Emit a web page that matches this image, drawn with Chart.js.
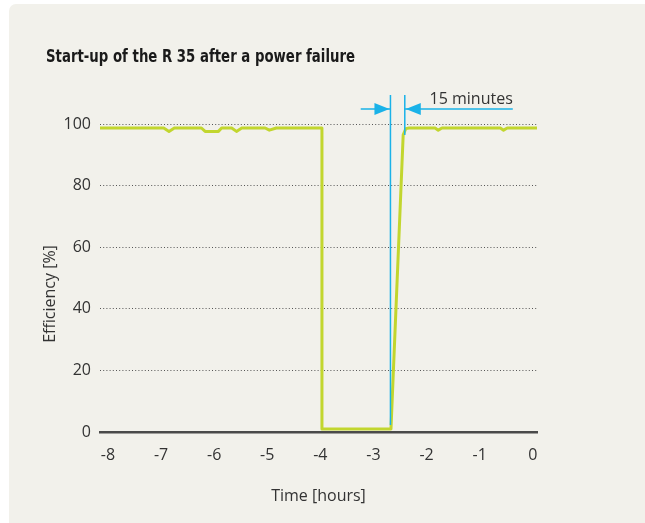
<!DOCTYPE html>
<html>
<head>
<meta charset="utf-8">
<script src="https://cdn.jsdelivr.net/npm/chart.js@4"></script>
<style>
  html, body { margin: 0; padding: 0; background: #fff; overflow: hidden; }
  canvas { display: block; }
</style>
</head>
<body>
<canvas id="chart" width="645" height="523"></canvas>
<script>
// values
const timeHours = [-8.15, -6.95, -6.85, -6.75, -6.24, -6.17, -5.92, -5.86, -5.67, -5.58, -5.48,
    -5.04, -4.96, -4.83, -3.97, -3.97, -2.67, -2.44, -2.39, -2.33, -1.84, -1.78, -1.71,
    -0.61, -0.55, -0.48, 0.08]
const efficiency = [98.7, 98.7, 97.6, 98.7, 98.7, 97.6, 97.6, 98.7, 98.7, 97.6, 98.7,
    98.7, 98.0, 98.7, 98.7, 1, 1, 96.5, 98.5, 98.7, 98.7, 98.0, 98.7,
    98.7, 98.0, 98.7, 98.7]
const yTicks = [0, 20, 40, 60, 80, 100]
const xTicks = [-8, -7, -6, -5, -4, -3, -2, -1, 0]

// the "15 minutes" marker
const restartStart = -2.68
const restartEnd = -2.41
const markerLabel = '15 minutes'

const titleText = 'Start-up of the R 35 after a power failure'
const yTitle = 'Efficiency [%]'
const green = '#c2d62e'
const blue = '#1ab2e8'
const ink = '#333333'

Chart.defaults.font.family = "'Open Sans', sans-serif"
Chart.defaults.font.size = 16
Chart.defaults.color = ink

const backdrop = {
    id: 'backdrop',
    beforeDraw(chart) {
        const {ctx, width, height} = chart
        ctx.save()
        ctx.fillStyle = '#ffffff'
        ctx.fillRect(0, 0, width, height)
        ctx.fillStyle = '#f2f1eb'
        ctx.beginPath()
        ctx.roundRect(9, 4, width + 20, height + 20, 7)
        ctx.fill()
        ctx.fillStyle = '#1a1a1a'
        ctx.font = "bold 17px 'Liberation Sans Narrow', 'DejaVu Sans Condensed', sans-serif"
        ctx.textBaseline = 'alphabetic'
        ctx.fillText(titleText, 46, 62, 309)
        // y axis title, sits a bit below the middle of the plot
        ctx.translate(50, 294)
        ctx.rotate(-Math.PI / 2)
        ctx.fillStyle = ink
        ctx.font = "16px 'Open Sans', sans-serif"
        ctx.textAlign = 'center'
        ctx.textBaseline = 'middle'
        ctx.fillText(yTitle, 0, 0)
        ctx.restore()
    }
}

const marker = {
    id: 'marker',
    afterDatasetsDraw(chart) {
        const {ctx, scales: {x, y}} = chart
        const x1 = x.getPixelForValue(restartStart)
        const x2 = x.getPixelForValue(restartEnd)
        const top = y.getPixelForValue(109.4)
        const arrowY = y.getPixelForValue(104.9)
        ctx.save()
        ctx.strokeStyle = blue
        ctx.fillStyle = blue
        ctx.lineWidth = 1.5
        ctx.beginPath()
        ctx.moveTo(x1, top)
        ctx.lineTo(x1, y.getPixelForValue(2.3))
        ctx.moveTo(x2, top)
        ctx.lineTo(x2, y.getPixelForValue(96.4))
        ctx.moveTo(x.getPixelForValue(-3.24), arrowY)
        ctx.lineTo(x1, arrowY)
        ctx.moveTo(x2, arrowY)
        ctx.lineTo(x.getPixelForValue(-0.376), arrowY)
        ctx.stroke()
        // arrow heads
        ctx.beginPath()
        ctx.moveTo(x1 - 1, arrowY)
        ctx.lineTo(x1 - 16, arrowY - 6)
        ctx.lineTo(x1 - 16, arrowY + 6)
        ctx.closePath()
        ctx.moveTo(x2 + 1, arrowY)
        ctx.lineTo(x2 + 16, arrowY - 6)
        ctx.lineTo(x2 + 16, arrowY + 6)
        ctx.closePath()
        ctx.fill()
        ctx.fillStyle = ink
        ctx.font = "16px 'Open Sans', sans-serif"
        ctx.textAlign = 'right'
        ctx.textBaseline = 'alphabetic'
        ctx.fillText(markerLabel, x.getPixelForValue(-0.376), arrowY - 5)
        ctx.restore()
    }
}

new Chart(document.getElementById('chart'), {
    type: 'line',
    data: {
        datasets: [{
            data: timeHours.map((h, i) => ({x: h, y: efficiency[i]})),
            borderColor: green,
            borderWidth: 3,
            pointRadius: 0,
            tension: 0,
            borderJoinStyle: 'round'
        }]
    },
    options: {
        responsive: false,
        animation: false,
        devicePixelRatio: 1,
        layout: {padding: {left: 40, right: 108, top: 124, bottom: 0}},
        plugins: {legend: {display: false}, tooltip: {enabled: false}},
        scales: {
            x: {
                type: 'linear',
                min: -8.15,
                max: 0.08,
                afterFit: s => { s.height = 91 },
                afterBuildTicks: s => { s.ticks = xTicks.map(v => ({value: v})) },
                ticks: {padding: 14, color: ink},
                grid: {display: false, drawTicks: false},
                border: {display: true, color: '#4a4a4a', width: 2.5},
                title: {display: true, text: 'Time [hours]', color: ink, padding: {top: 0, bottom: 17}}
            },
            y: {
                min: 0,
                max: 100,
                afterFit: s => { s.width = 60 },
                afterBuildTicks: s => { s.ticks = yTicks.map(v => ({value: v})) },
                ticks: {padding: 9, color: ink},
                grid: {
                    drawTicks: false,
                    lineWidth: 1,
                    color: c => c.tick && c.tick.value === 0 ? 'rgba(0,0,0,0)' : '#555555'
                },
                border: {display: false, dash: [1, 2.2]},
                title: {display: false}
            }
        }
    },
    plugins: [backdrop, marker]
})
</script>
</body>
</html>
